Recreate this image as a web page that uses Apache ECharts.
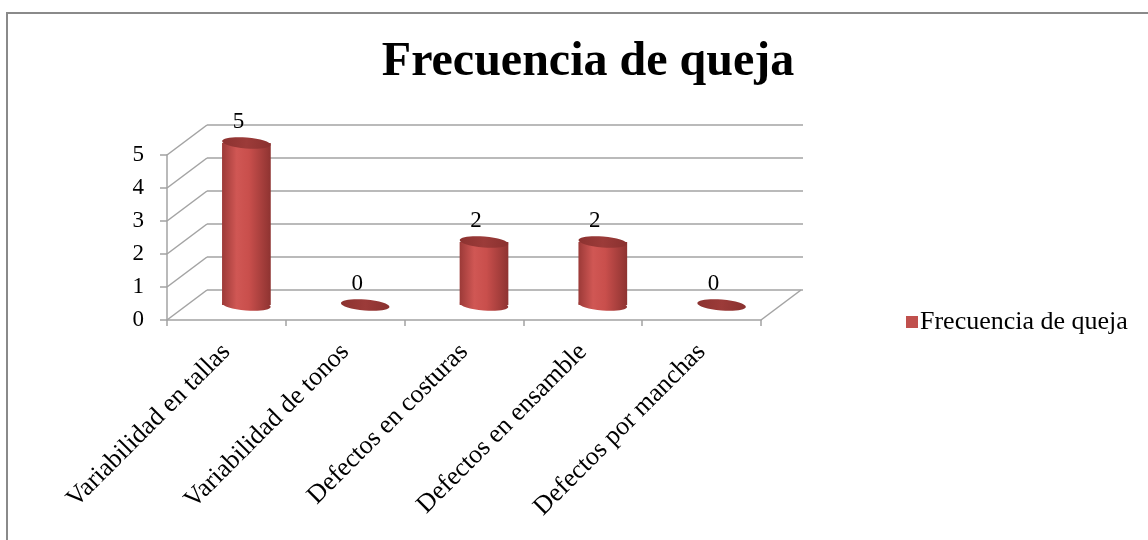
<!DOCTYPE html>
<html>
<head>
<meta charset="utf-8">
<script src="https://cdn.jsdelivr.net/npm/echarts@6/dist/echarts.min.js"></script>
<style>
html,body{margin:0;padding:0;background:#fff;}
#chart{width:1148px;height:540px;}
</style>
</head>
<body>
<div id="chart"></div>
<script>
const categories = ['Variabilidad en tallas','Variabilidad de tonos','Defectos en costuras','Defectos en ensamble','Defectos por manchas'];
const values = [5, 0, 2, 2, 0];
const yTicks = [0, 1, 2, 3, 4, 5];
const seriesName = 'Frecuencia de queja';

const DX = 40, DY = 30;           // depth offset of back wall
const FONT = '"Liberation Serif", "Times New Roman", serif';
const GRID_COLOR = '#a3a3a3';

const chart = echarts.init(document.getElementById('chart'));

function bodyGradient() {
  return new echarts.graphic.LinearGradient(0, 0, 1, 0, [
    {offset: 0, color: '#9c3a38'},
    {offset: 0.3, color: '#d05754'},
    {offset: 0.55, color: '#c94f4c'},
    {offset: 1, color: '#8e3331'}
  ]);
}

const option = {
  animation: false,
  backgroundColor: '#fff',
  title: {
    text: 'Frecuencia de queja',
    left: 583,
    textAlign: 'center',
    top: 34,
    textStyle: {fontFamily: FONT, fontWeight: 'bold', fontSize: 48, color: '#000'}
  },
  legend: {
    left: 901,
    top: 304,
    icon: 'rect',
    itemWidth: 12,
    itemHeight: 12,
    itemGap: 0,
    data: [{name: seriesName, itemStyle: {color: '#c0504d'}}],
    textStyle: {fontFamily: FONT, fontSize: 26, color: '#000', padding: [0, 0, 0, -3]}
  },
  graphic: [{
    type: 'rect', silent: true,
    shape: {x: 7, y: 13, width: 1300, height: 700},
    style: {fill: 'none', stroke: '#8a8a8a', lineWidth: 2}
  }],
  grid: {left: 167, right: 387, top: 155, bottom: 220, containLabel: false},
  xAxis: {
    type: 'category',
    data: categories,
    boundaryGap: true,
    axisLine: {show: true, lineStyle: {color: GRID_COLOR, width: 1.5}},
    axisTick: {show: true, length: 6, lineStyle: {color: GRID_COLOR, width: 1.5}},
    axisLabel: {
      rotate: 45, margin: 28, interval: 0,
      fontFamily: FONT, fontSize: 26, color: '#000'
    },
    splitLine: {show: false}
  },
  yAxis: {
    type: 'value',
    min: 0, max: 5, interval: 1,
    axisLine: {show: true, lineStyle: {color: GRID_COLOR, width: 1.5}},
    axisTick: {show: true, length: 7, lineStyle: {color: GRID_COLOR, width: 1.5}},
    axisLabel: {margin: 23, fontFamily: FONT, fontSize: 23, color: '#000', padding: [4, 0, 0, 0]},
    splitLine: {show: false}
  },
  series: [
    {
      type: 'custom',
      name: 'wall',
      silent: true,
      z: 1,
      data: yTicks.map(v => [0, v]),
      encode: {x: 0, y: 1},
      renderItem: function (params, api) {
        const cs = params.coordSys;
        const v = api.value(1);
        const y = api.coord([0, v])[1];
        const xl = cs.x, xr = cs.x + cs.width;
        const ls = {stroke: GRID_COLOR, lineWidth: 1.5};
        const children = [
          {type: 'line', shape: {x1: xl, y1: y, x2: xl + DX, y2: y - DY}, style: ls},
          {type: 'line', shape: {x1: xl + DX, y1: y - DY, x2: xr + DX + 2, y2: y - DY}, style: ls}
        ];
        if (v === 0) {
          children.push({type: 'line', shape: {x1: xr, y1: y, x2: xr + DX, y2: y - DY}, style: ls});
        }
        return {type: 'group', children: children};
      }
    },
    {
      type: 'custom',
      name: seriesName,
      z: 3,
      itemStyle: {color: '#c0504d'},
      data: values.map((v, i) => [i, v]),
      encode: {x: 0, y: 1},
      renderItem: function (params, api) {
        const idx = api.value(0), v = api.value(1);
        const base = api.coord([idx, 0]);
        const top = api.coord([idx, v]);
        const w = api.size([1, 0])[0] * 0.41;
        const cx = base[0] + DX / 2;
        const by = base[1] - DY / 2;
        const ty = top[1] - DY / 2 + (v > 0 ? 3 : 0);
        const rx = w / 2, ry = 5.5;
        const rot = -0.08;
        const children = [];
        if (v > 0) {
          children.push({
            type: 'ellipse', shape: {cx: cx, cy: by, rx: rx, ry: ry},
            rotation: rot, originX: cx, originY: by,
            style: {fill: bodyGradient()}
          });
          children.push({
            type: 'rect', shape: {x: cx - rx, y: ty, width: w, height: by - ty},
            style: {fill: bodyGradient()}
          });
        }
        children.push({
          type: 'ellipse', shape: {cx: cx, cy: ty, rx: rx, ry: ry},
          rotation: rot, originX: cx, originY: ty,
          style: {fill: new echarts.graphic.LinearGradient(0, 0, 1, 0, [
            {offset: 0, color: '#8c3230'}, {offset: 0.5, color: '#9c3b39'}, {offset: 1, color: '#8a312f'}
          ])}
        });
        children.push({
          type: 'text',
          style: {
            text: String(v), x: cx - 8, y: ty - 21,
            align: 'center', verticalAlign: 'middle',
            font: '23px ' + FONT, fill: '#000'
          }
        });
        return {type: 'group', children: children};
      }
    }
  ]
};
chart.setOption(option);
</script>
</body>
</html>
